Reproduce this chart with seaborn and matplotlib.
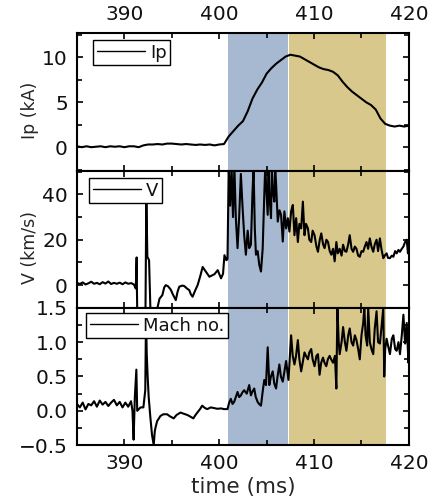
import matplotlib
matplotlib.use("Agg")
import matplotlib.pyplot as plt
import seaborn as sns
from matplotlib.ticker import MultipleLocator

# ---------------- data ----------------
blue_span = [400.9, 407.2]
tan_span = [407.4, 417.6]

t_ip = [385.0, 385.5, 386.0, 386.5, 387.0, 387.5, 388.0, 388.5, 389.0, 389.5,
        390.0, 390.5, 391.0, 391.5, 392.0, 392.5, 393.0, 393.5, 394.0, 394.5,
        395.0, 395.5, 396.0, 396.5, 397.0, 397.5, 398.0, 398.5, 399.0, 399.5,
        400.0, 400.5, 401.0, 401.5, 402.0, 402.5, 403.0, 403.5, 404.0, 404.5,
        405.0, 405.5, 406.0, 406.5, 407.0, 407.5, 408.0, 408.5, 409.0, 409.5,
        410.0, 410.5, 411.0, 411.5, 412.0, 412.5, 413.0, 413.5, 414.0, 414.5,
        415.0, 415.5, 416.0, 416.5, 417.0, 417.5, 418.0, 418.5, 419.0, 419.5, 420.0]
ip = [0.1, 0.0, 0.1, 0.0, 0.05, 0.1, 0.0, 0.1, 0.05, 0.1,
      0.0, 0.1, 0.1, 0.0, 0.2, 0.3, 0.3, 0.35, 0.3, 0.4,
      0.4, 0.35, 0.3, 0.35, 0.3, 0.25, 0.3, 0.25, 0.3, 0.2,
      0.3, 0.35, 1.2, 1.8, 2.4, 2.9, 4.0, 5.4, 6.4, 7.2,
      8.2, 8.8, 9.3, 9.7, 10.1, 10.3, 10.2, 10.1, 9.8, 9.5,
      9.2, 8.9, 8.7, 8.6, 8.4, 8.0, 7.3, 6.7, 6.2, 5.8,
      5.4, 5.0, 4.7, 4.2, 3.2, 2.6, 2.4, 2.3, 2.4, 2.3, 2.4]

t_v = [385.0, 385.3, 385.6, 385.9, 386.2, 386.5, 386.8, 387.1, 387.4, 387.7,
       388.0, 388.3, 388.6, 388.9, 389.2, 389.5, 389.8, 390.1, 390.4, 390.7,
       391.0, 391.2, 391.29, 391.32, 391.4, 392.2, 392.31, 392.42, 392.6, 392.77,
       393.1, 393.48, 393.7, 394.0, 394.2, 394.36, 394.6, 394.89, 395.1, 395.42,
       395.6, 395.78, 396.1, 396.31, 396.6, 396.84, 397.0, 397.19, 397.5, 397.72,
       398.0, 398.25, 398.6, 398.96, 399.2, 399.49, 399.84, 400.19, 400.4, 400.55,
       400.75, 400.87, 401.0, 401.15, 401.3, 401.45, 401.6, 401.75, 401.93, 402.1,
       402.28, 402.45, 402.63, 402.81, 403.0, 403.16, 403.34, 403.5, 403.62, 403.75,
       403.87, 404.05, 404.22, 404.4, 404.58, 404.75, 404.85, 405.0, 405.11, 405.2,
       405.28, 405.46, 405.55, 405.64, 405.81, 405.9, 405.99, 406.17, 406.35, 406.52,
       406.7, 406.87, 407.05, 407.23, 407.4, 407.58, 407.76, 407.93, 408.11, 408.29,
       408.45, 408.64, 408.82, 408.99, 409.15, 409.35, 409.5, 409.7, 409.85, 410.05,
       410.25, 410.41, 410.6, 410.76, 410.95, 411.11, 411.3, 411.47, 411.65, 411.82,
       412.0, 412.17, 412.35, 412.5, 412.7, 412.9, 413.06, 413.25, 413.41, 413.6,
       413.76, 413.95, 414.12, 414.3, 414.47, 414.65, 414.82, 415.0, 415.18, 415.35,
       415.53, 415.7, 415.88, 416.05, 416.24, 416.4, 416.59, 416.75, 416.94, 417.1,
       417.3, 417.45, 417.65, 417.8, 418.0, 418.2, 418.36, 418.55, 418.71, 418.9,
       419.06, 419.25, 419.42, 419.6, 419.77, 419.9, 420.0]
v = [1.0, 0.5, 1.2, 0.3, 0.8, 1.5, 0.6, 1.0, 0.4, 1.3,
     0.7, 1.6, 0.5, 1.0, 0.6, 1.1, 0.4, 1.2, 0.6, 0.9,
     0.3, -1.5, 12.2, -2.0, -25.0, -25.0, 40.0, 12.5, 11.0, -15.0,
     -14.0, -10.0, -6.0, -4.4, -1.0, 0.0, -0.5, -2.0, -4.0, -6.6,
     -3.0, -0.7, -0.2, -0.4, -1.5, -2.2, -4.0, -5.1, -2.0, 0.0,
     4.0, 8.0, 5.9, 3.7, 4.2, 4.8, 6.6, 3.0, 5.0, 13.2,
     11.0, 11.4, 52.0, 35.0, 52.0, 30.0, 52.0, 29.5, 16.3, 30.0,
     49.0, 35.0, 22.0, 13.4, 24.0, 16.3, 17.8, 40.0, 52.0, 25.0,
     13.4, 15.0, 9.0, 6.0, 16.0, 39.8, 52.0, 40.0, 31.0, 52.0,
     40.0, 29.5, 52.0, 42.0, 36.8, 52.0, 45.0, 28.0, 33.0, 31.0,
     19.2, 32.5, 25.0, 29.5, 23.6, 32.5, 35.3, 22.0, 29.5, 19.0,
     27.0, 25.0, 36.8, 22.0, 27.0, 25.0, 20.0, 19.0, 24.0, 22.0,
     17.0, 14.7, 20.0, 22.8, 18.0, 16.3, 20.0, 19.0, 15.0, 13.4,
     16.0, 10.5, 19.0, 14.0, 16.0, 13.0, 17.8, 15.0, 14.7, 18.0,
     22.0, 16.0, 14.7, 17.0, 16.0, 13.0, 12.5, 15.0, 14.7, 17.0,
     19.0, 16.0, 20.6, 17.0, 14.7, 18.0, 20.0, 15.0, 20.6, 16.0,
     11.9, 13.0, 14.0, 12.0, 11.9, 13.0, 12.5, 15.0, 14.0, 15.5,
     14.7, 16.0, 17.0, 19.0, 20.0, 14.0, 18.0]

t_m = [385.0, 385.3, 385.6, 385.9, 386.2, 386.5, 386.8, 387.1, 387.4, 387.7,
       388.0, 388.3, 388.6, 388.9, 389.2, 389.5, 389.8, 390.1, 390.4, 390.7,
       390.85, 390.97, 391.1, 391.26, 391.35, 391.7, 392.0, 392.2, 392.28, 392.35,
       392.45, 392.56, 392.74, 392.91, 393.09, 393.2, 393.27, 393.45, 393.8, 394.1,
       394.5, 394.8, 395.2, 395.5, 395.92, 396.2, 396.63, 396.9, 397.27, 397.5,
       397.7, 398.0, 398.2, 398.5, 398.75, 399.1, 399.46, 399.8, 400.2, 400.5,
       400.87, 401.05, 401.22, 401.4, 401.57, 401.75, 401.93, 402.1, 402.28, 402.45,
       402.63, 402.9, 403.16, 403.34, 403.5, 403.69, 403.85, 404.05, 404.2, 404.4,
       404.6, 404.75, 404.93, 405.11, 405.28, 405.45, 405.64, 405.8, 405.99, 406.15,
       406.34, 406.5, 406.7, 406.85, 407.05, 407.3, 407.45, 407.58, 407.75, 407.93,
       408.1, 408.29, 408.45, 408.64, 408.8, 408.99, 409.15, 409.35, 409.5, 409.7,
       409.85, 410.05, 410.25, 410.41, 410.58, 410.75, 410.94, 411.1, 411.29, 411.45,
       411.64, 411.8, 412.0, 412.2, 412.35, 412.46, 412.6, 412.7, 412.9, 413.06,
       413.25, 413.41, 413.6, 413.76, 413.95, 414.12, 414.3, 414.47, 414.65, 414.82,
       415.0, 415.18, 415.3, 415.43, 415.6, 415.71, 415.88, 416.05, 416.24, 416.4,
       416.59, 416.75, 416.94, 417.1, 417.3, 417.4, 417.5, 417.65, 417.8, 418.0,
       418.2, 418.36, 418.55, 418.71, 418.9, 419.06, 419.25, 419.42, 419.6, 419.77,
       419.95, 420.0]
mach = [0.10, 0.05, 0.12, 0.02, 0.10, 0.08, 0.14, 0.06, 0.15, 0.09,
        0.13, 0.07, 0.12, 0.16, 0.08, 0.13, 0.05, 0.12, 0.06, 0.14,
        0.0, -0.42, 0.2, 0.6, 0.0, 0.05, 0.05, 0.3, 1.4, 0.85,
        0.5, 0.2, -0.1, -0.35, -0.5, -0.3, -0.25, -0.15, -0.075, -0.05,
        -0.05, -0.08, -0.11, -0.06, -0.025, -0.04, -0.06, -0.08, -0.11, -0.06,
        -0.025, 0.03, 0.075, 0.04, 0.025, 0.05, 0.04, 0.03, 0.035, 0.025,
        0.025, 0.12, 0.175, 0.10, 0.13, 0.2, 0.275, 0.2, 0.225, 0.27,
        0.3, 0.25, 0.375, 0.225, 0.28, 0.325, 0.2, 0.13, 0.1, 0.075,
        0.3, 0.45, 0.375, 0.925, 0.375, 0.5, 0.575, 0.4, 0.325, 0.5,
        0.675, 0.5, 0.425, 0.55, 0.725, 0.45, 0.8, 1.1, 0.8, 0.675,
        0.8, 1.03, 0.75, 0.575, 0.7, 0.85, 0.8, 0.75, 0.85, 0.9,
        0.75, 0.65, 0.8, 0.825, 0.525, 0.7, 0.775, 0.7, 0.65, 0.75,
        0.8, 0.75, 0.7, 0.8, 0.325, 1.5, 1.0, 0.825, 1.0, 1.22,
        1.0, 0.875, 1.1, 1.2, 1.0, 0.95, 1.1, 1.03, 0.9, 0.75,
        1.1, 1.28, 1.5, 1.1, 0.95, 1.5, 1.0, 0.9, 0.825, 1.2,
        1.45, 1.0, 0.98, 1.2, 1.5, 0.5, 0.9, 1.05, 0.95, 0.825,
        1.05, 1.1, 0.9, 0.875, 1.0, 0.825, 1.1, 1.4, 0.98, 1.28,
        0.7, 1.0]

x_ticks = [390, 400, 410, 420]
labels = ["Ip", "V", "Mach no."]
ylabels = ["Ip (kA)", "V (km/s)", ""]

# ---------------- style ----------------
sns.set_theme(style="ticks")
plt.rcParams["font.family"] = ["DejaVu Sans"]
plt.rcParams["text.color"] = "#111111"

blue = "#a7b9d1"
tan = "#d9c88b"

fig, axes = plt.subplots(3, 1, sharex=True, figsize=(4.35, 5.03), dpi=100)
fig.subplots_adjust(left=0.177, right=0.940, top=0.934, bottom=0.115, hspace=0)

series = [(t_ip, ip), (t_v, v), (t_m, mach)]
ylims = [(-2.6, 12.7), (-10, 50.5), (-0.5, 1.5)]
majors = [5, 20, 0.5]
minors = [2.5, 10, 0.25]
leg_anchor = [(0.048, 0.949), (0.036, 0.944), (0.027, 0.963)]

for i, ax in enumerate(axes):
    ax.axvspan(blue_span[0], blue_span[1], color=blue, lw=0, zorder=0)
    ax.axvspan(tan_span[0], tan_span[1], color=tan, lw=0, zorder=0)
    tx, yy = series[i]
    sns.lineplot(x=tx, y=yy, ax=ax, color="black", lw=1.5, label=labels[i],
                 estimator=None, sort=False)
    ax.set_xlim(385, 420)
    ax.set_ylim(*ylims[i])
    ax.xaxis.set_major_locator(MultipleLocator(10))
    ax.xaxis.set_minor_locator(MultipleLocator(5))
    ax.yaxis.set_major_locator(MultipleLocator(majors[i]))
    ax.yaxis.set_minor_locator(MultipleLocator(minors[i]))
    ax.tick_params(which="both", direction="in", top=True, right=True,
                   width=1.2, colors="black", labelcolor="#111111")
    ax.tick_params(which="major", length=4.5, labelsize=14.5, pad=6.5)
    ax.tick_params(which="minor", length=3.5)
    for s in ax.spines.values():
        s.set_linewidth(1.5)
        s.set_color("black")
    ax.set_ylabel(ylabels[i], fontsize=12.5)
    ax.yaxis.set_label_coords(-0.115, 0.44)
    ax.set_xlabel("")
    leg = ax.legend(loc="upper left", bbox_to_anchor=leg_anchor[i], borderaxespad=0,
                    frameon=True, fancybox=False, edgecolor="black", framealpha=1,
                    fontsize=13, handlelength=2.7, handletextpad=0.25, borderpad=0.2)
    leg.get_frame().set_linewidth(1.0)
    for h in leg.get_lines():
        h.set_linewidth(1.0)
    if i == 0:
        ax.tick_params(labeltop=True, labelbottom=False)
    elif i == 1:
        ax.tick_params(labeltop=False, labelbottom=False)
    else:
        ax.tick_params(labeltop=False, labelbottom=True)

axes[2].set_xticks(x_ticks)
axes[2].set_xlabel("time (ms)", fontsize=15.5, labelpad=3)

fig.savefig("out.png", dpi=100)
